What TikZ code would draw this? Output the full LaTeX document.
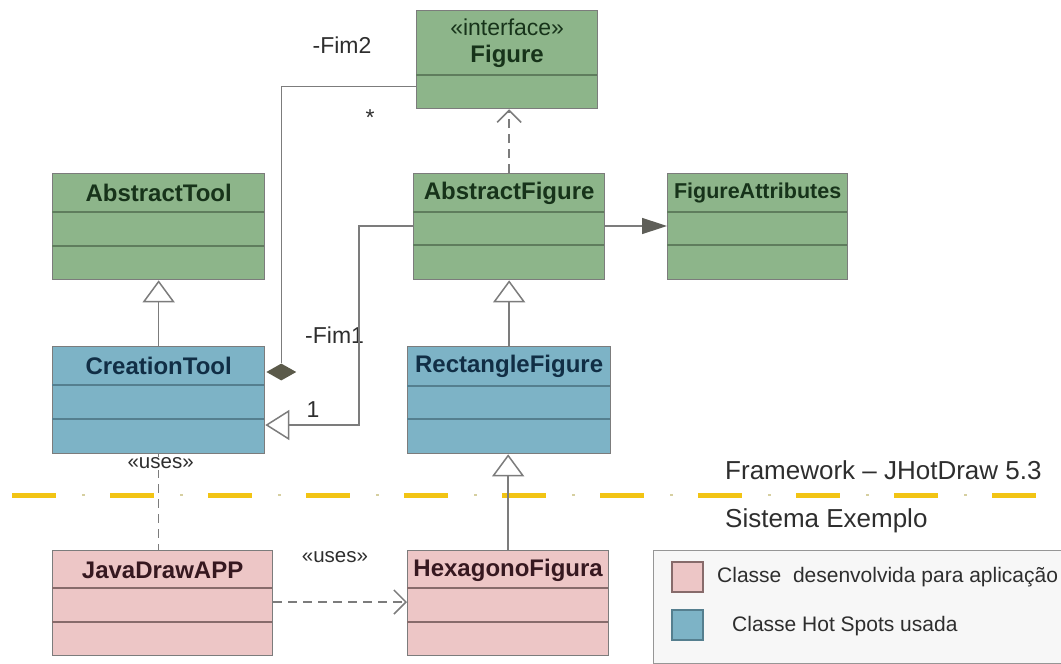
\documentclass[tikz,border=0pt]{standalone}
\usepackage{fontspec}
\setmainfont{Liberation Sans}
\usetikzlibrary{arrows.meta,calc,shapes.geometric}

\definecolor{grfill}{HTML}{8DB58A}
\definecolor{grline}{HTML}{5F7D5D}
\definecolor{grtext}{HTML}{17331A}
\definecolor{blfill}{HTML}{7DB3C6}
\definecolor{blline}{HTML}{557F8F}
\definecolor{bltext}{HTML}{112E45}
\definecolor{pkfill}{HTML}{EDC6C6}
\definecolor{pkline}{HTML}{876B6B}
\definecolor{pktext}{HTML}{361820}
\definecolor{edge}{HTML}{7C7C7C}
\definecolor{headgray}{HTML}{5E5E58}
\definecolor{diagray}{HTML}{5B5A4A}
\definecolor{sepyellow}{HTML}{F2C414}
\definecolor{sepdot}{HTML}{D6CFA0}
\definecolor{txt}{HTML}{2E2E2E}

\tikzset{
  classbox/.style={draw=edge, line width=1.3pt, inner sep=0pt, anchor=north west},
  classtitle/.style={font=\fontsize{24}{27}\selectfont\bfseries, inner sep=0pt},
  conn/.style={draw=edge, line width=1.5pt},
  depline/.style={conn, dash pattern=on 9pt off 6pt},
  gentip/.style={conn, -{Triangle[length=22pt,width=32pt,fill=white]}},
  navtip/.style={conn, -{Triangle[length=24pt,width=30pt,fill=white]}},
  solidtip/.style={conn, -{Triangle[length=25pt,width=16pt,fill=headgray,color=headgray]}},
  veetip/.style={-{Straight Barb[length=12pt,width=24pt]}},
  lbl/.style={font=\fontsize{23}{26}\selectfont, text=txt, inner sep=1pt},
  stereo/.style={font=\fontsize{20.5}{23}\selectfont, text=txt, inner sep=1pt},
  legtext/.style={font=\fontsize{21}{24}\selectfont, text=txt, inner sep=0pt, anchor=west},
  zonetext/.style={font=\fontsize{26}{29}\selectfont, text=txt, inner sep=0pt, anchor=west},
}

% name, colour prefix, left, top, right, bottom, divider list, title
\newcommand\umlclass[8]{%
  \node[classbox, fill=#2fill, minimum width={#5-#3}, minimum height={#6-#4}] (#1) at (#3,#4) {};
  \foreach \dy in {#7} \draw[#2line, line width=1.6pt] (#3,\dy) -- (#5,\dy);
  \node[classtitle, text=#2text] at ($(#1.north)+(0,20)$) {#8};
}

\begin{document}
\begin{tikzpicture}[x=1pt, y=-1pt]
\useasboundingbox (0,0) rectangle (1061,664);
\clip (0,0) rectangle (1061,664);

% boundary between framework and application
\draw[sepyellow, line width=5pt, dash pattern=on 44pt off 54pt] (12,495) -- (1045,495);
\draw[sepdot, line width=2.5pt, dash pattern=on 2.5pt off 95.5pt] (82,495) -- (1045,495);
\node[zonetext] (fw) at (725,470) {Framework – JHotDraw 5.3};
\node[zonetext] (se) at (725,521) {Sistema Exemplo};

% classes
\umlclass{AbstractTool}{gr}{52}{173}{264}{279}{212,246}{AbstractTool}
\umlclass{CreationTool}{bl}{52}{346}{264}{453}{385,419}{CreationTool}
\umlclass{AbstractFigure}{gr}{413}{173}{604}{279}{212,245}{AbstractFigure}
\umlclass{FigureAttributes}{gr}{667}{173}{847}{279}{212,245}{\fontsize{21.5}{24}\selectfont FigureAttributes}
\umlclass{RectangleFigure}{bl}{407}{346}{610}{453}{386,419}{RectangleFigure}
\umlclass{JavaDrawAPP}{pk}{52}{550}{272}{655}{588,622}{JavaDrawAPP}
\umlclass{HexagonoFigura}{pk}{407}{550}{608}{655}{588,622}{HexagonoFigura}

% interface Figure
\node[classbox, fill=grfill, minimum width=181, minimum height=98] (Figure) at (416,10) {};
\draw[grline, line width=1.6pt] (416,75) -- (597,75);
\node[stereo, font=\fontsize{23}{26}\selectfont, text=grtext] (figst) at ($(Figure.north)+(0,17)$) {«interface»};
\node[classtitle, text=grtext] (figname) at ($(Figure.north)+(0,46)$) {Figure};

% composition: CreationTool holds Figures
\node[shape=diamond, fill=diagray, inner sep=0pt, minimum width=30pt, minimum height=17pt] (dia)
  at ($(CreationTool.north east)+(16,26)$) {};
\coordinate (figA) at ($(Figure.south west)+(0,-23)$);
\draw[conn] (figA) -| (dia.north);
\node[lbl] (fim2) at (342,45) {-Fim2};
\node[lbl] (star) at (370,118) {*};

% association AbstractFigure -> CreationTool
\node[lbl, anchor=west] (fim1) at (304,335) {-Fim1};
\coordinate (afA) at ($(AbstractFigure.north west)+(0,53)$);
\coordinate (ctA) at ($(CreationTool.north east)+(0,79)$);
\draw[navtip] (afA) -- ++(-54,0) |- (ctA);
\node[lbl] (one) at (313,410) {1};

% generalizations
\draw[gentip] (CreationTool.north) -- (AbstractTool.south);
\draw[gentip] (RectangleFigure.north) -- (RectangleFigure.north |- AbstractFigure.south);
\draw[gentip] (HexagonoFigura.north) -- (HexagonoFigura.north |- RectangleFigure.south);

% realization of Figure
\draw[depline, veetip] (AbstractFigure.north) -- (AbstractFigure.north |- Figure.south);

% attribute association
\draw[solidtip] ($(AbstractFigure.north east)+(0,53)$) -- ($(FigureAttributes.north west)+(0,53)$);

% uses dependencies
\draw[depline] (CreationTool.south) -- (CreationTool.south |- JavaDrawAPP.north);
\node[stereo, fill=white] (uses1) at ($(CreationTool.south)+(2,9)$) {«uses»};
\draw[depline, veetip] ($(JavaDrawAPP.north east)+(0,52)$) -- ($(HexagonoFigura.north west)+(0,52)$);
\node[stereo] (uses2) at (335,557) {«uses»};

% legend
\node[draw=edge!80, line width=1.2pt, fill=white!97!black, anchor=north west, inner sep=0pt,
      minimum width=440, minimum height=113] (legend) at (653,550) {};
\node[draw=pkline, line width=1.2pt, fill=pkfill, minimum width=31, minimum height=30, inner sep=0pt]
  (legpk) at (687.5,577) {};
\node[draw=blline, line width=1.2pt, fill=blfill, minimum width=31, minimum height=30, inner sep=0pt]
  (legbl) at (687.5,625) {};
\node[legtext] (legpkt) at (717,577) {Classe\ \ desenvolvida para aplicação};
\node[legtext] (legblt) at (732,626) {Classe Hot Spots usada};
\end{tikzpicture}
\end{document}
